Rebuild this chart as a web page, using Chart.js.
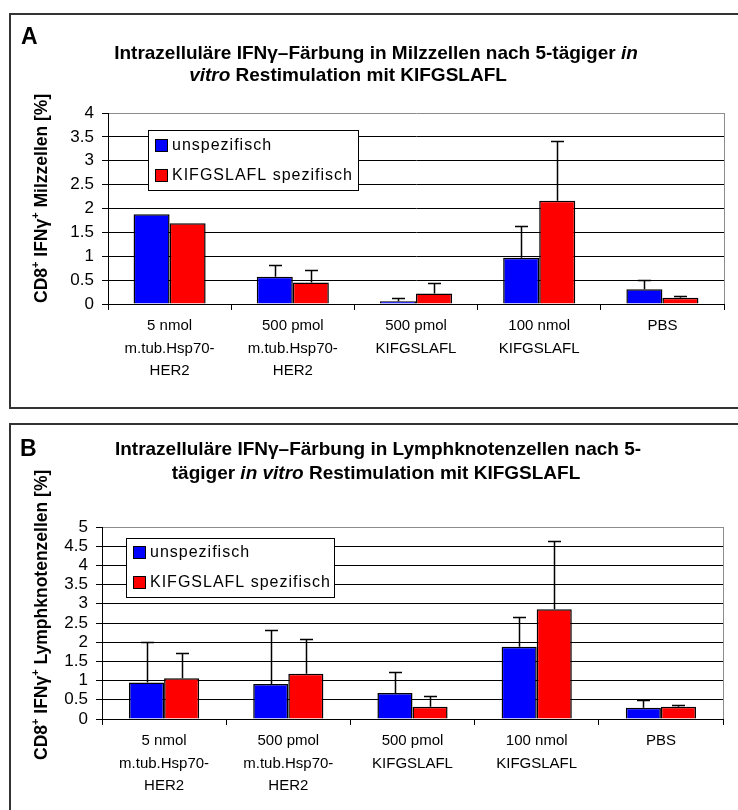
<!DOCTYPE html>
<html>
<head>
<meta charset="utf-8">
<script src="https://cdn.jsdelivr.net/npm/chart.js@4.4.0/dist/chart.umd.min.js"></script>
<style>
  html, body { margin: 0; padding: 0; width: 738px; height: 810px; overflow: hidden; background: #fff; }
  .frame { position: absolute; border: 2px solid #333; box-sizing: border-box; }
  #frameA { left: 9px; top: 13px; width: 770px; height: 396px; }
  #frameB { left: 9px; top: 423px; width: 770px; height: 430px; }
  canvas { position: absolute; left: 0; }
  #chartA { top: 0; }
  #chartB { top: 410px; }
</style>
</head>
<body>
<div class="frame" id="frameA"></div>
<div class="frame" id="frameB"></div>
<canvas id="chartA" width="738" height="410"></canvas>
<canvas id="chartB" width="738" height="400"></canvas>
<script>
// Treatment groups (x categories, multi-line labels)
const categories = [
  ["5 nmol", "m.tub.Hsp70-", "HER2"],
  ["500 pmol", "m.tub.Hsp70-", "HER2"],
  ["500 pmol", "KIFGSLAFL"],
  ["100 nmol", "KIFGSLAFL"],
  ["PBS"]
];
const seriesNames = ["unspezifisch", "KIFGSLAFL spezifisch"];

// A: spleen cells, mean % and SD
const milzUnspez   = [1.88, 0.57, 0.06, 0.97, 0.31];
const milzUnspezSD = [0,    0.25, 0.07, 0.66, 0.20];
const milzSpez     = [1.69, 0.45, 0.22, 2.16, 0.13];
const milzSpezSD   = [0,    0.26, 0.23, 1.26, 0.03];
const milzTicks    = [0, 0.5, 1, 1.5, 2, 2.5, 3, 3.5, 4];

// B: lymph node cells, mean % and SD
const lkUnspez   = [0.95, 0.91, 0.68, 1.88, 0.29];
const lkUnspezSD = [1.05, 1.41, 0.54, 0.78, 0.20];
const lkSpez     = [1.06, 1.18, 0.32, 2.86, 0.32];
const lkSpezSD   = [0.67, 0.90, 0.29, 1.78, 0.05];
const lkTicks    = [0, 0.5, 1, 1.5, 2, 2.5, 3, 3.5, 4, 4.5, 5];

const FONT = '"Liberation Sans", Arial, Helvetica, sans-serif';
const BLUE = '#0000FF';
const RED = '#FF0000';

// Upper error bars (mean + SD) with a short cap
const errorBars = {
  id: 'errorBars',
  afterDatasetsDraw(chart) {
    const ctx = chart.ctx;
    const y = chart.scales.y;
    ctx.save();
    ctx.strokeStyle = '#000';
    ctx.lineWidth = 1.5;
    chart.data.datasets.forEach((ds, i) => {
      const meta = chart.getDatasetMeta(i);
      meta.data.forEach((bar, j) => {
        const sd = ds.errors[j];
        if (!sd) return;
        const x = Math.round(bar.x) + 0.5;
        const y0 = y.getPixelForValue(ds.data[j]);
        const y1 = Math.round(y.getPixelForValue(ds.data[j] + sd)) + 0.5;
        ctx.beginPath();
        ctx.moveTo(x, y0);
        ctx.lineTo(x, y1);
        ctx.moveTo(x - 6.5, y1);
        ctx.lineTo(x + 6.5, y1);
        ctx.stroke();
      });
    });
    ctx.restore();
  }
};

function drawRuns(ctx, runs, x, y, baseSize, align) {
  const fontOf = r => (r.italic ? 'italic ' : '') + 'bold ' + (r.sup ? Math.round(baseSize * 0.65) : baseSize) + 'px ' + FONT;
  let total = 0;
  runs.forEach(r => { ctx.font = fontOf(r); total += ctx.measureText(r.t).width; });
  let cx = align === 'center' ? x - total / 2 : x;
  runs.forEach(r => {
    ctx.font = fontOf(r);
    ctx.fillText(r.t, cx, r.sup ? y - baseSize * 0.45 : y);
    cx += ctx.measureText(r.t).width;
  });
}

// Panel letter, title, y-axis title, plot frame and legend box
const decor = {
  id: 'decor',
  afterDraw(chart, args, o) {
    const ctx = chart.ctx;
    const a = chart.chartArea;
    ctx.save();
    // right edge of plot area
    ctx.strokeStyle = '#8c8c8c';
    ctx.lineWidth = 1;
    ctx.beginPath();
    ctx.moveTo(Math.round(a.right) + 0.5, a.top);
    ctx.lineTo(Math.round(a.right) + 0.5, a.bottom);
    ctx.stroke();

    ctx.fillStyle = '#000';
    ctx.textBaseline = 'alphabetic';
    ctx.textAlign = 'left';
    // panel letter
    ctx.font = 'bold 23px ' + FONT;
    ctx.fillText(o.letter, o.letterX, o.letterY);
    // title
    o.title.forEach((line, i) => drawRuns(ctx, line, o.titleX[i], o.titleY[i], 19, 'center'));
    // y-axis title
    ctx.save();
    ctx.translate(o.yTitleX, o.yTitleY);
    ctx.rotate(-Math.PI / 2);
    drawRuns(ctx, o.yTitle, 0, 0, 17.5, 'left');
    ctx.restore();

    // legend
    const L = o.legend;
    ctx.fillStyle = '#fff';
    ctx.fillRect(L.x, L.y, L.w, L.h);
    ctx.strokeStyle = '#000';
    ctx.lineWidth = 1;
    ctx.strokeRect(L.x + 0.5, L.y + 0.5, L.w, L.h);
    ctx.font = '16px ' + FONT;
    if ('letterSpacing' in ctx) ctx.letterSpacing = '1px';
    ctx.textBaseline = 'middle';
    chart.data.datasets.forEach((ds, i) => {
      const ry = L.rows[i];
      ctx.fillStyle = ds.backgroundColor;
      ctx.fillRect(L.sqX, ry - 6, 12, 12);
      ctx.strokeRect(L.sqX + 0.5, ry - 5.5, 12, 12);
      ctx.fillStyle = '#000';
      ctx.fillText(ds.label, L.textX, ry + 1);
    });
    ctx.restore();
  }
};

function makeChart(id, opts) {
  const H = document.getElementById(id).height;
  return new Chart(document.getElementById(id), {
    type: 'bar',
    data: {
      labels: categories,
      datasets: [
        { label: seriesNames[0], data: opts.blue, errors: opts.blueSD, backgroundColor: BLUE,
          borderColor: '#000', borderWidth: 1.5, categoryPercentage: opts.catPct, barPercentage: 1 },
        { label: seriesNames[1], data: opts.red, errors: opts.redSD, backgroundColor: RED,
          borderColor: '#000', borderWidth: 1.5, categoryPercentage: opts.catPct, barPercentage: 1 }
      ]
    },
    plugins: [errorBars, decor],
    options: {
      responsive: false,
      animation: false,
      events: [],
      layout: { padding: { top: opts.area.top, right: 738 - opts.area.right, bottom: 0, left: 0 } },
      plugins: {
        legend: { display: false },
        tooltip: { enabled: false },
        title: { display: false },
        decor: opts.decor
      },
      scales: {
        x: {
          ticks: { font: { family: FONT, size: 15, lineHeight: 1.5 }, color: '#000', padding: 5,
                   maxRotation: 0, autoSkip: false },
          grid: { offset: true, drawOnChartArea: false, drawTicks: true, tickLength: 6, color: '#000' },
          border: { display: true, color: '#000', width: 1 },
          afterFit: s => { s.height = H - opts.area.bottom; s.paddingLeft = 0; s.paddingRight = 0; }
        },
        y: {
          min: 0,
          max: opts.ticks[opts.ticks.length - 1],
          afterBuildTicks: s => { s.ticks = opts.ticks.map(v => ({ value: v })); },
          ticks: { font: { family: FONT, size: 17 }, color: '#000', padding: 8, autoSkip: false,
                   callback: v => String(v) },
          grid: {
            color: c => (c.tick && c.tick.value === opts.ticks[opts.ticks.length - 1]) ? '#8c8c8c' : '#000',
            tickColor: '#000', drawTicks: true, tickLength: 6, lineWidth: 1
          },
          border: { display: true, color: '#000', width: 1 },
          afterFit: s => { s.width = opts.area.left; s.paddingTop = 0; s.paddingBottom = 0; }
        }
      }
    }
  });
}

makeChart('chartA', {
  blue: milzUnspez, blueSD: milzUnspezSD, red: milzSpez, redSD: milzSpezSD,
  ticks: milzTicks, catPct: 0.585,
  area: { left: 108, right: 724, top: 113, bottom: 304 },
  decor: {
    letter: 'A', letterX: 21, letterY: 44,
    titleX: [376, 348], titleY: [59, 81],
    title: [
      [{ t: 'Intrazelluläre IFNγ–Färbung in Milzzellen nach 5-tägiger ' }, { t: 'in', italic: true }],
      [{ t: 'vitro', italic: true }, { t: ' Restimulation mit KIFGSLAFL' }]
    ],
    yTitleX: 47, yTitleY: 303,
    yTitle: [{ t: 'CD8' }, { t: '+', sup: true }, { t: ' IFNγ' }, { t: '+', sup: true }, { t: ' Milzzellen [%]' }],
    legend: { x: 148, y: 130, w: 210, h: 60, rows: [145, 175], sqX: 155, textX: 172 }
  }
});

makeChart('chartB', {
  blue: lkUnspez, blueSD: lkUnspezSD, red: lkSpez, redSD: lkSpezSD,
  ticks: lkTicks, catPct: 0.565,
  area: { left: 102, right: 723, top: 117, bottom: 309 },
  decor: {
    letter: 'B', letterX: 20, letterY: 46,
    titleX: [378, 376], titleY: [45, 69],
    title: [
      [{ t: 'Intrazelluläre IFNγ–Färbung in Lymphknotenzellen nach 5-' }],
      [{ t: 'tägiger ' }, { t: 'in vitro', italic: true }, { t: ' Restimulation mit KIFGSLAFL' }]
    ],
    yTitleX: 47, yTitleY: 350,
    yTitle: [{ t: 'CD8' }, { t: '+', sup: true }, { t: ' IFNγ' }, { t: '+', sup: true }, { t: ' Lymphknotenzellen [%]' }],
    legend: { x: 126, y: 128, w: 208, h: 59, rows: [142, 172], sqX: 133, textX: 150 }
  }
});
</script>
</body>
</html>
